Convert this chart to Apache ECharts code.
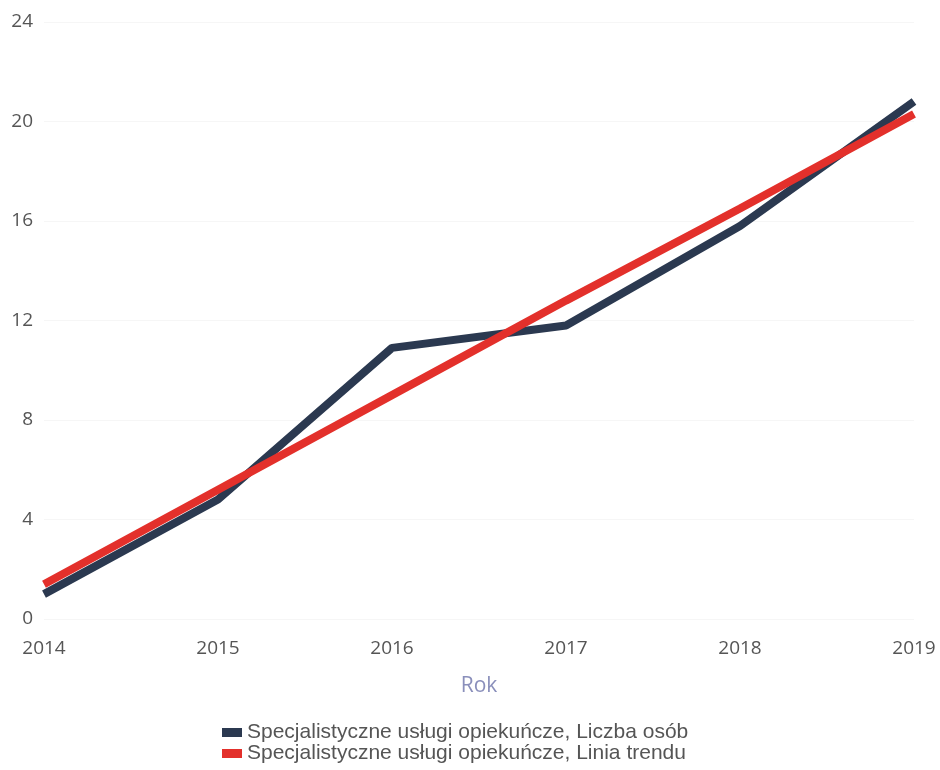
<!DOCTYPE html>
<html>
<head>
<meta charset="utf-8">
<script src="https://cdn.jsdelivr.net/npm/echarts@6/dist/echarts.min.js"></script>
<style>
  html, body { margin: 0; padding: 0; background: #fff; }
  #chart { width: 940px; height: 770px; }
</style>
</head>
<body>
<div id="chart"></div>
<script>
// dane
var lata = ['2014', '2015', '2016', '2017', '2018', '2019'];
var liczbaOsob = [1.0, 4.8, 10.9, 11.8, 15.8, 20.8];
var liniaTrendu = [1.4, 5.2, 9.0, 12.8, 16.5, 20.3];
var nazwySerii = ['Specjalistyczne usługi opiekuńcze, Liczba osób', 'Specjalistyczne usługi opiekuńcze, Linia trendu'];

var chart = echarts.init(document.getElementById('chart'));
chart.setOption({
  animation: false,
  textStyle: { fontFamily: 'Open Sans, sans-serif' },
  grid: { left: 44, right: 26, top: 22, bottom: 151 },
  legend: {
    data: nazwySerii,
    orient: 'vertical',
    left: 222,
    top: 722,
    height: 48,
    padding: 0,
    itemWidth: 20,
    itemHeight: 9,
    itemGap: 0,
    icon: 'rect',
    textStyle: { fontSize: 21, lineHeight: 20, color: '#555', fontFamily: 'Liberation Sans, Arial, sans-serif' }
  },
  xAxis: {
    type: 'category',
    data: lata,
    boundaryGap: false,
    name: 'Rok',
    nameLocation: 'middle',
    nameGap: 57,
    nameTextStyle: { fontSize: 21, color: '#8a8fbb' },
    axisLine: { show: false },
    axisTick: { show: false },
    axisLabel: { fontSize: 19, color: '#555', margin: 20 }
  },
  yAxis: {
    type: 'value',
    min: 0,
    max: 24,
    interval: 4,
    axisLine: { show: false },
    axisTick: { show: false },
    axisLabel: { fontSize: 19, color: '#555', margin: 11 },
    splitLine: { lineStyle: { color: '#f6f6f6', width: 1 } }
  },
  series: [
    {
      name: nazwySerii[0],
      type: 'line',
      data: liczbaOsob,
      symbol: 'none',
      z: 2,
      lineStyle: { color: '#2b3950', width: 8, cap: 'butt' },
      itemStyle: { color: '#2b3950' }
    },
    {
      name: nazwySerii[1],
      type: 'line',
      data: liniaTrendu,
      symbol: 'none',
      z: 3,
      lineStyle: { color: '#e3302b', width: 8, cap: 'butt' },
      itemStyle: { color: '#e3302b' }
    }
  ]
});
</script>
</body>
</html>
